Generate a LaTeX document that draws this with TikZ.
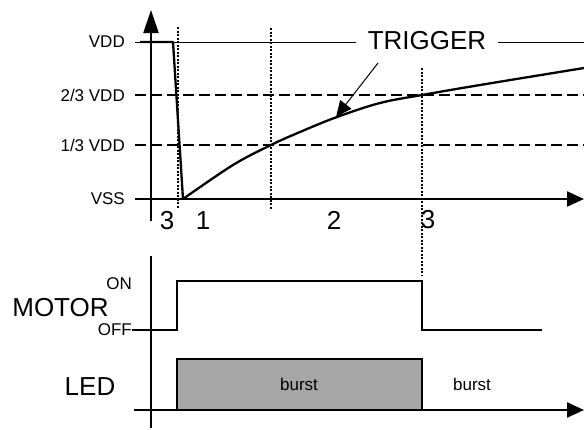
\documentclass[tikz,border=0pt]{standalone}
\usepackage{fontspec}
\setmainfont{Liberation Sans}
\usetikzlibrary{arrows.meta}
\begin{document}
\begin{tikzpicture}[x=1pt,y=-1pt,
  small/.style={font=\fontsize{17}{20}\selectfont, inner sep=0pt},
  big/.style={font=\fontsize{26}{30}\selectfont, inner sep=0pt},
  axis/.style={line width=2.3pt},
  sig/.style={line width=2.3pt, line join=round},
  thinline/.style={line width=1pt},
  refline/.style={line width=2pt, dash pattern=on 11pt off 5pt},
  marker/.style={line width=2pt, dash pattern=on 2pt off 1.5pt},
  wave/.style={line width=1.3pt},
  bigarrow/.style={-{Triangle[length=17pt,width=15pt]}},
]
\useasboundingbox (0,0) rectangle (584,429);

% level labels
\node[small, anchor=east] (lvdd) at (125,42) {VDD};
\node[small, anchor=east] (l23) at (125,95) {2/3 VDD};
\node[small, anchor=east] (l13) at (125,145) {1/3 VDD};
\node[small, anchor=east] (lvss) at (125,199) {VSS};

% VDD line with TRIGGER label
\coordinate (vddL) at (135,42);
\coordinate (vddR) at (584,42);
\node[big, inner xsep=12pt] (trig) at (427,41) {TRIGGER};
\draw[thinline] (vddL) -- (vddL -| trig.west);
\draw[thinline] (trig.east |- vddR) -- (vddR);

% threshold lines
\draw[refline] (135,95) -- (584,95);
\draw[refline] (135,145) -- (584,145);

% time markers
\draw[marker] (178,27) -- (178,208);
\draw[marker] (271,28) -- (271,209);
\draw[marker] (422,68) -- (422,275);

% upper axes
\draw[axis, -{Triangle[length=23pt,width=15pt]}] (151,221) -- (151,10);
\draw[axis, bigarrow] (135,199) -- (584,199);

% signal
\draw[sig] (140,42) -- (173,42) -- (183,199);
\draw[sig] plot[smooth, tension=0.6] coordinates {(183,199) (233,165) (271,145) (300,132) (337,117) (380,103) (422,95) (480,85) (584,68)};

% trigger arrow
\coordinate (tstart) at (378,63);
\coordinate (tip) at (336,117);
\draw[thinline, -{Triangle[length=16pt,width=14pt]}] (tstart) -- (tip);

% phase labels
\node[big] (ph3a) at (167,221) {3};
\node[big] (ph1) at (203,221) {1};
\node[big] (ph2) at (334,220) {2};
\node[big] (ph3b) at (428,220) {3};

% LED burst
\draw[wave, fill=black!35] (177,410) rectangle (422,359);
\node[small] (b1) at (299,384) {burst};
\node[small] (b2) at (472,384) {burst};

% lower axes
\draw[axis] (151,256) -- (151,428);
\draw[axis, bigarrow] (134,410) -- (584,410);

% motor
\node[big] (motor) at (60.5,308) {MOTOR};
\node[small, anchor=east] (on) at (132,284) {ON};
\node[small, anchor=east] (off) at (132,330) {OFF};
\draw[wave] (off.east) -- (177,330) -- (177,281) -- (422,281) -- (422,330) -- (542,330);

\node[big] (led) at (90,387) {LED};
\end{tikzpicture}
\end{document}
